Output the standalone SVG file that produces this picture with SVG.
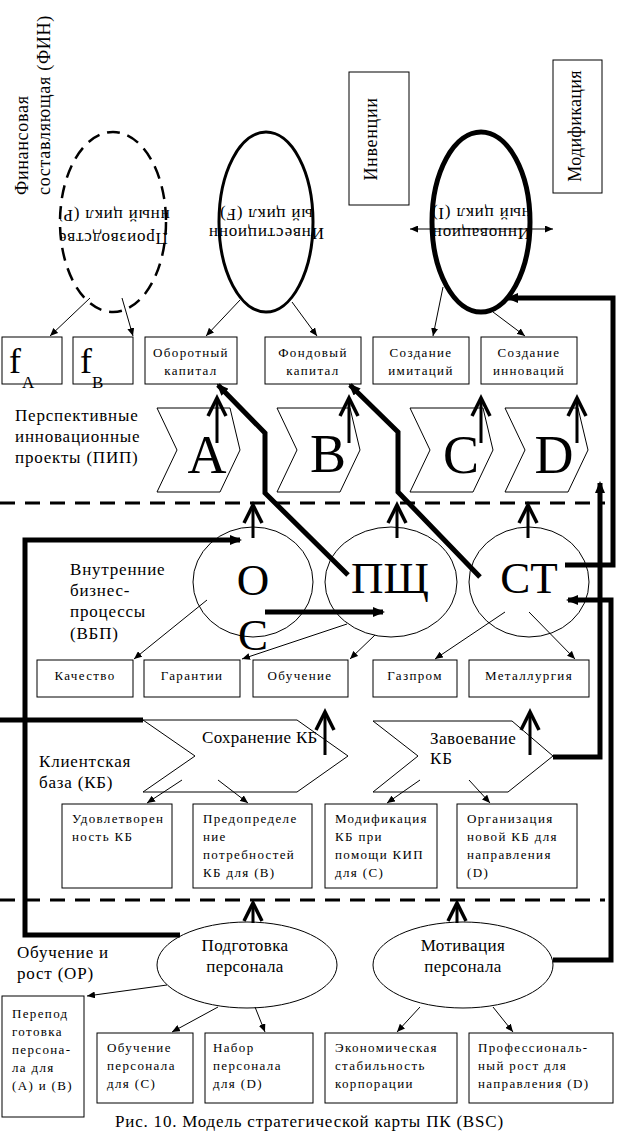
<svg xmlns="http://www.w3.org/2000/svg" width="638" height="1142" viewBox="0 0 638 1142">
<style>
text{font-family:'Liberation Serif',Tinos,'Times New Roman',Times,'Noto Serif','DejaVu Serif',FreeSerif,'Nimbus Roman',serif;fill:#000}
.lb{font-size:17px;letter-spacing:0.8px}
.bx{font-size:13px;letter-spacing:1.35px}
.bg{font-size:45px}
.ch{font-size:54px}
.vt{font-size:18px;letter-spacing:0.7px}
.nd{fill:#fff;stroke:#000;stroke-width:1}
.thin{stroke:#000;stroke-width:1;fill:none;marker-end:url(#a)}
.thick{stroke:#000;stroke-width:5;fill:none}
.dash{stroke:#000;stroke-width:3;stroke-dasharray:15 10;fill:none}
.uh{fill:none;stroke:#000;stroke-width:3.5}
.st{stroke:#000;stroke-width:3}
</style>
<defs>
<marker id="a" markerUnits="userSpaceOnUse" markerWidth="8" markerHeight="7" refX="8" refY="3.5" orient="auto-start-reverse"><path d="M0,0 L8,3.5 L0,7 z" fill="#000"/></marker>
<marker id="k" markerUnits="userSpaceOnUse" markerWidth="12" markerHeight="10" refX="10" refY="5" orient="auto-start-reverse"><path d="M0,0 L12,5 L0,10 z" fill="#000"/></marker>
<path id="uh" class="uh" d="M-9,18 L0,0 L9,18"/>
<clipPath id="c1"><rect x="60" y="195" width="110" height="55"/></clipPath>
<clipPath id="c2"><rect x="200" y="195" width="130" height="55"/></clipPath>
<clipPath id="c3"><rect x="433" y="195" width="100" height="55"/></clipPath>
</defs>
<rect width="638" height="1142" fill="#fff"/>

<g id="labels">
<text class="vt" transform="translate(28,195) rotate(-90)">Финансовая</text>
<text class="vt" transform="translate(50,195) rotate(-90)">составляющая (ФИН)</text>
<text class="lb" x="15" y="421">Перспективные</text>
<text class="lb" x="15" y="442">инновационные</text>
<text class="lb" x="15" y="463">проекты (ПИП)</text>
<text class="lb" x="70" y="575">Внутренние</text>
<text class="lb" x="70" y="596">бизнес-</text>
<text class="lb" x="70" y="617">процессы</text>
<text class="lb" x="70" y="639">(ВБП)</text>
<text class="lb" x="39" y="767">Клиентская</text>
<text class="lb" x="39" y="788">база (КБ)</text>
<text class="lb" x="17" y="958">Обучение и</text>
<text class="lb" x="17" y="979">рост (ОР)</text>
<text class="lb" x="115" y="1127">Рис. 10. Модель стратегической карты ПК (BSC)</text>
</g>

<g id="cycle-p">
<ellipse cx="113" cy="222" rx="53" ry="90" fill="#fff" stroke="#000" stroke-width="2.5" stroke-dasharray="13 8"/>
<g clip-path="url(#c1)"><text class="lb" text-anchor="middle" transform="rotate(180 113 222)"><tspan x="113" y="211">Производстве</tspan><tspan x="113" y="234">нный цикл (Р)</tspan></text></g>
</g>
<g id="cycle-f">
<ellipse cx="266" cy="222" rx="47" ry="90" fill="#fff" stroke="#000" stroke-width="3"/>
<g clip-path="url(#c2)"><text class="lb" text-anchor="middle" transform="rotate(180 266 222)"><tspan x="266" y="216">Инвестиционн</tspan><tspan x="266" y="235">ый цикл (F)</tspan></text></g>
</g>
<g id="cycle-i">
<ellipse cx="481" cy="222" rx="49" ry="90" fill="#fff" stroke="#000" stroke-width="5"/>
<g clip-path="url(#c3)"><text class="lb" text-anchor="middle" transform="rotate(180 481 222)"><tspan x="481" y="216">Инновацион</tspan><tspan x="481" y="236">ный цикл (I)</tspan></text></g>
</g>
<g id="invention">
<rect class="nd" x="349" y="72" width="60" height="133"/>
<text class="vt" text-anchor="middle" transform="translate(377,139) rotate(-90)">Инвенции</text>
</g>
<g id="modification">
<rect class="nd" x="553" y="60" width="49" height="133"/>
<text class="vt" text-anchor="middle" transform="translate(581,126) rotate(-90)" style="letter-spacing:0.3px">Модификация</text>
</g>

<g id="fA"><rect class="nd" x="2" y="337" width="60" height="47"/><text x="9" y="373" style="font-size:36px">f</text><text x="22" y="388" style="font-size:17px">A</text></g>
<g id="fB"><rect class="nd" x="73" y="337" width="60" height="47"/><text x="80" y="373" style="font-size:36px">f</text><text x="92" y="388" style="font-size:17px">B</text></g>
<g id="working-capital"><rect class="nd" x="145" y="337" width="92" height="47"/><text class="bx" text-anchor="middle"><tspan x="191" y="357">Оборотный</tspan><tspan x="191" y="375">капитал</tspan></text></g>
<g id="fixed-capital"><rect class="nd" x="265" y="337" width="96" height="47"/><text class="bx" text-anchor="middle"><tspan x="313" y="357">Фондовый</tspan><tspan x="313" y="375">капитал</tspan></text></g>
<g id="imitation"><rect class="nd" x="373" y="337" width="96" height="47"/><text class="bx" text-anchor="middle"><tspan x="421" y="357">Создание</tspan><tspan x="421" y="375">имитаций</tspan></text></g>
<g id="innovation"><rect class="nd" x="481" y="337" width="96" height="47"/><text class="bx" text-anchor="middle"><tspan x="529" y="357">Создание</tspan><tspan x="529" y="375">инноваций</tspan></text></g>

<g id="proj-A"><polygon class="nd" points="157,408 230,408 240,450 220,492 157,492 177,450"/><text class="ch" x="207" y="473" text-anchor="middle">A</text></g>
<g id="proj-B"><polygon class="nd" points="277,408 350,408 360,450 340,492 277,492 297,450"/><text class="ch" x="328" y="472" text-anchor="middle">B</text></g>
<g id="proj-C"><polygon class="nd" points="410,408 483,408 493,450 473,492 410,492 430,450"/><text class="ch" x="461" y="473" text-anchor="middle">C</text></g>
<g id="proj-D"><polygon class="nd" points="505,408 578,408 588,450 568,492 505,492 525,450"/><text class="ch" x="554" y="473" text-anchor="middle">D</text></g>

<g id="OS"><ellipse class="nd" cx="253" cy="582" rx="60" ry="55"/><text class="bg" x="253" y="595" text-anchor="middle">О</text><text class="bg" x="253" y="650" text-anchor="middle">С</text></g>
<g id="PSh"><ellipse class="nd" cx="391" cy="582" rx="66" ry="55"/><text class="bg" x="390" y="593" text-anchor="middle">ПЩ</text></g>
<g id="ST"><ellipse class="nd" cx="529" cy="582" rx="60" ry="55"/><text class="bg" x="529" y="593" text-anchor="middle">СТ</text></g>

<g id="quality"><rect class="nd" x="37" y="660" width="96" height="37"/><text class="bx" x="85" y="680" text-anchor="middle">Качество</text></g>
<g id="guarantee"><rect class="nd" x="144" y="660" width="96" height="37"/><text class="bx" x="192" y="680" text-anchor="middle">Гарантии</text></g>
<g id="training"><rect class="nd" x="253" y="660" width="95" height="37"/><text class="bx" x="300" y="680" text-anchor="middle">Обучение</text></g>
<g id="gazprom"><rect class="nd" x="373" y="660" width="84" height="37"/><text class="bx" x="415" y="680" text-anchor="middle">Газпром</text></g>
<g id="metallurgy"><rect class="nd" x="469" y="660" width="120" height="37"/><text class="bx" x="529" y="680" text-anchor="middle">Металлургия</text></g>

<g id="keep-kb"><polygon class="nd" points="143,720 297,720 348,756 297,792 143,792 195,756"/><text class="lb" x="202" y="743" style="letter-spacing:0.3px">Сохранение КБ</text></g>
<g id="win-kb"><polygon class="nd" points="373,721 512,721 553,756 508,792 373,792 418,756"/><text class="lb" x="430" y="744" style="letter-spacing:0.5px">Завоевание</text><text class="lb" x="430" y="764">КБ</text></g>

<g id="satisfaction"><rect class="nd" x="62" y="804" width="110" height="84"/><text class="bx"><tspan x="72" y="823">Удовлетворен</tspan><tspan x="72" y="841">ность КБ</tspan></text></g>
<g id="predetermine"><rect class="nd" x="193" y="804" width="119" height="84"/><text class="bx"><tspan x="203" y="823">Предопределе</tspan><tspan x="203" y="841">ние</tspan><tspan x="203" y="859">потребностей</tspan><tspan x="203" y="877">КБ для (В)</tspan></text></g>
<g id="modify-kb"><rect class="nd" x="325" y="804" width="112" height="84"/><text class="bx"><tspan x="335" y="823">Модификация</tspan><tspan x="335" y="841">КБ при</tspan><tspan x="335" y="859">помощи КИП</tspan><tspan x="335" y="877">для (С)</tspan></text></g>
<g id="new-kb"><rect class="nd" x="457" y="804" width="120" height="84"/><text class="bx"><tspan x="467" y="823">Организация</tspan><tspan x="467" y="841">новой КБ для</tspan><tspan x="467" y="859">направления</tspan><tspan x="467" y="877">(D)</tspan></text></g>

<g id="prep"><ellipse class="nd" cx="247" cy="965" rx="90" ry="43"/><text class="lb" text-anchor="middle" style="letter-spacing:0.4px"><tspan x="245" y="951">Подготовка</tspan><tspan x="245" y="972">персонала</tspan></text></g>
<g id="motiv"><ellipse class="nd" cx="463" cy="965" rx="90" ry="43"/><text class="lb" text-anchor="middle" style="letter-spacing:0.4px"><tspan x="463" y="951">Мотивация</tspan><tspan x="463" y="972">персонала</tspan></text></g>

<g id="retrain"><rect class="nd" x="2" y="996" width="82" height="121"/><text class="bx"><tspan x="12" y="1018">Перепод</tspan><tspan x="12" y="1036">готовка</tspan><tspan x="12" y="1054">персона-</tspan><tspan x="12" y="1072">ла для</tspan><tspan x="12" y="1090">(А) и (В)</tspan></text></g>
<g id="train-c"><rect class="nd" x="97" y="1033" width="96" height="70"/><text class="bx"><tspan x="107" y="1052">Обучение</tspan><tspan x="107" y="1070">персонала</tspan><tspan x="107" y="1088">для (С)</tspan></text></g>
<g id="hire-d"><rect class="nd" x="205" y="1033" width="108" height="70"/><text class="bx"><tspan x="213" y="1052">Набор</tspan><tspan x="213" y="1070">персонала</tspan><tspan x="213" y="1088">для (D)</tspan></text></g>
<g id="econ"><rect class="nd" x="325" y="1033" width="132" height="70"/><text class="bx"><tspan x="335" y="1052">Экономическая</tspan><tspan x="335" y="1070">стабильность</tspan><tspan x="335" y="1088">корпорации</tspan></text></g>
<g id="prof"><rect class="nd" x="469" y="1033" width="144" height="70"/><text class="bx"><tspan x="478" y="1052">Профессиональ-</tspan><tspan x="478" y="1070">ный рост для</tspan><tspan x="478" y="1088">направления (D)</tspan></text></g>

<g id="connectors">
<line class="dash" x1="0" y1="503" x2="605" y2="503"/>
<line class="dash" x1="0" y1="900" x2="605" y2="900"/>
<line class="thin" x1="410" y1="229" x2="553" y2="229" marker-start="url(#a)"/>
<line class="thin" x1="90" y1="298" x2="50" y2="336"/>
<line class="thin" x1="122" y1="298" x2="133" y2="336"/>
<line class="thin" x1="240" y1="300" x2="206" y2="336"/>
<line class="thin" x1="292" y1="302" x2="317" y2="336"/>
<line class="thin" x1="443" y1="287" x2="433" y2="336"/>
<line class="thin" x1="493" y1="312" x2="525" y2="336"/>
<line class="thin" x1="207" y1="600" x2="134" y2="659"/>
<line class="thin" x1="347" y1="624" x2="242" y2="659"/>
<line class="thin" x1="375" y1="635" x2="350" y2="659"/>
<line class="thin" x1="505" y1="612" x2="435" y2="659"/>
<line class="thin" x1="529" y1="612" x2="575" y2="659"/>
<line class="thin" x1="182" y1="780" x2="147" y2="803"/>
<line class="thin" x1="218" y1="780" x2="248" y2="803"/>
<line class="thin" x1="420" y1="780" x2="387" y2="803"/>
<line class="thin" x1="469" y1="780" x2="490" y2="803"/>
<line class="thin" x1="167" y1="985" x2="87" y2="996"/>
<line class="thin" x1="218" y1="1007" x2="172" y2="1032"/>
<line class="thin" x1="255" y1="1007" x2="265" y2="1032"/>
<line class="thin" x1="420" y1="1007" x2="397" y2="1032"/>
<line class="thin" x1="493" y1="1007" x2="513" y2="1032"/>
<path class="thick" d="M218,385 L265,433 L265,493 L348,575" marker-start="url(#k)"/>
<path class="thick" d="M350,385 L398,432 L398,492 L480,577" marker-start="url(#k)"/>
<path class="thick" d="M565,565 L613,565 L613,298 L508,298" marker-end="url(#k)"/>
<path class="thick" d="M553,757 L600,757 L600,483" marker-end="url(#k)"/>
<path class="thick" d="M553,960 L611,960 L611,600 L568,600" marker-end="url(#k)"/>
<path class="thick" d="M180,935 L25,935 L25,540 L240,540" marker-end="url(#k)"/>
<path class="thick" d="M0,720 L143,720"/>
<path class="thick" d="M265,612 L383,612" marker-end="url(#k)"/>
<line class="st" x1="217" y1="400" x2="217" y2="443"/><use href="#uh" x="217" y="398"/>
<line class="st" x1="349" y1="400" x2="349" y2="443"/><use href="#uh" x="349" y="398"/>
<line class="st" x1="481" y1="400" x2="481" y2="443"/><use href="#uh" x="481" y="398"/>
<line class="st" x1="577" y1="400" x2="577" y2="443"/><use href="#uh" x="577" y="398"/>
<line class="st" x1="253" y1="507" x2="253" y2="538"/><use href="#uh" x="253" y="505"/>
<line class="st" x1="397" y1="507" x2="397" y2="538"/><use href="#uh" x="397" y="505"/>
<line class="st" x1="528" y1="507" x2="528" y2="538"/><use href="#uh" x="528" y="505"/>
<line class="st" x1="325" y1="714" x2="325" y2="755"/><use href="#uh" x="325" y="712"/>
<line class="st" x1="530" y1="714" x2="530" y2="755"/><use href="#uh" x="530" y="712"/>
<line class="st" x1="253" y1="905" x2="253" y2="923"/><use href="#uh" x="253" y="903"/>
<line class="st" x1="457" y1="905" x2="457" y2="923"/><use href="#uh" x="457" y="903"/>
</g>
</svg>
